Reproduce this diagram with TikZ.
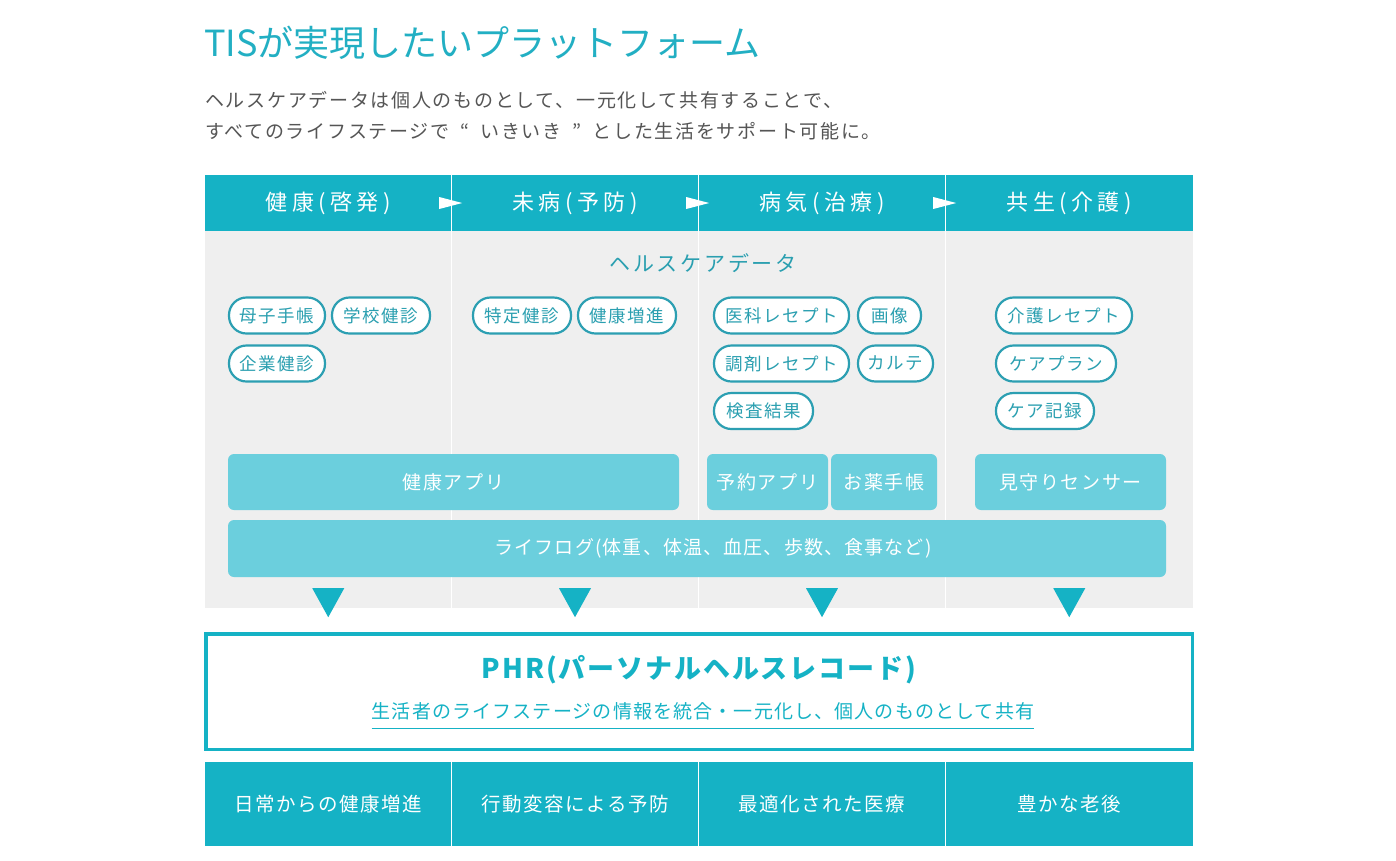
\documentclass[tikz,border=0pt]{standalone}
\usepackage{fontspec}
\setmainfont{Noto Sans CJK JP}
\usetikzlibrary{calc}
\definecolor{tisteal}{HTML}{15B2C5}
\definecolor{tislight}{HTML}{6BCFDD}
\definecolor{tisgray}{HTML}{EFEFEF}
\definecolor{pillline}{HTML}{2C9FB2}
\definecolor{pilltext}{HTML}{2A9FB0}
\definecolor{titlecol}{HTML}{22AFC3}
\definecolor{greytext}{HTML}{555555}
\newcommand\tfs[2]{\fontsize{#1}{#1}\selectfont\addfontfeature{LetterSpace=#2}}
\tikzset{
  hdr/.style={fill=tisteal, text=white, inner sep=0pt, minimum height=56pt, font=\tfs{22}{20}},
  graycol/.style={fill=tisgray, inner sep=0pt, minimum height=377pt},
  botcell/.style={fill=tisteal, text=white, inner sep=0pt, minimum height=84pt, font=\tfs{19.5}{8}},
  divider/.style={white, line width=1.5pt},
  pill/.style={draw=pillline, line width=2.2pt, fill=white, rounded corners=17.5pt, minimum height=36pt, inner sep=0pt, text=pilltext, font=\tfs{17.5}{9}},
  app/.style={fill=tislight, rounded corners=6pt, text=white, inner sep=0pt, font=\tfs{19}{8}},
  tri/.style={fill=tisteal},
}
\begin{document}
\begin{tikzpicture}[x=1pt,y=-1pt]
\useasboundingbox[fill=white] (0,0) rectangle (1396,860);
% title
\node[anchor=west, inner sep=0pt, text=titlecol, font=\tfs{36}{0}] (title) at (204,43) {TISが実現したいプラットフォーム};
\node[anchor=west, inner sep=0pt, text=greytext, font=\tfs{19}{9}] (sub1) at (205,100) {ヘルスケアデータは個人のものとして、一元化して共有することで、};
\node[anchor=west, inner sep=0pt, text=greytext, font=\tfs{19}{9}] (sub2) at (205,131) {すべてのライフステージで\hspace{11pt}“\hspace{11pt}いきいき\hspace{11pt}”\hspace{11pt}とした生活をサポート可能に。};
% header
\node[hdr, minimum width=246.5pt] (h1) at (328.25,203) {健康(啓発)};
\node[hdr, minimum width=247pt] (h2) at (575,203) {未病(予防)};
\node[hdr, minimum width=247pt] (h3) at (822,203) {病気(治療)};
\node[hdr, minimum width=247.5pt] (h4) at (1069.25,203) {共生(介護)};
% gray columns
\node[graycol, minimum width=246.5pt] (g1) at (328.25,419.5) {};
\node[graycol, minimum width=247pt] (g2) at (575,419.5) {};
\node[graycol, minimum width=247pt] (g3) at (822,419.5) {};
\node[graycol, minimum width=247.5pt] (g4) at (1069.25,419.5) {};
\draw[divider] (h1.north east) -- (g1.south east);
\draw[divider] (h2.north east) -- (g2.south east);
\draw[divider] (h3.north east) -- (g3.south east);
% header arrows
\foreach \h in {h1,h2,h3}{
  \fill[white] ($(\h.east)+(-12.5,-6)$) -- ($(\h.east)+(10.5,0)$) -- ($(\h.east)+(-12.5,6)$) -- cycle;
}
% label
\node[text=pilltext, inner sep=0pt, font=\tfs{21}{13}] (hcd) at (703,263) {ヘルスケアデータ};
% pills
\node[pill, minimum width=96pt] (p1) at (277,315.5) {母子手帳};
\node[pill, minimum width=98pt] (p2) at (381,315.5) {学校健診};
\node[pill, minimum width=96pt] (p3) at (277,363.5) {企業健診};
\node[pill, minimum width=98pt] (p4) at (522,315.5) {特定健診};
\node[pill, minimum width=98pt] (p5) at (627,315.5) {健康増進};
\node[pill, minimum width=135pt] (p6) at (781.5,315.5) {医科レセプト};
\node[pill, minimum width=63pt] (p7) at (889.5,315.5) {画像};
\node[pill, minimum width=135pt] (p8) at (781.5,363.5) {調剤レセプト};
\node[pill, minimum width=75pt] (p9) at (895.5,363.5) {カルテ};
\node[pill, minimum width=99pt] (p10) at (763.5,411) {検査結果};
\node[pill, minimum width=136pt] (p11) at (1064,315.5) {介護レセプト};
\node[pill, minimum width=120pt] (p12) at (1056,363.5) {ケアプラン};
\node[pill, minimum width=98pt] (p13) at (1045,411) {ケア記録};
% apps
\node[app, minimum width=451pt, minimum height=56pt] (a1) at (453.5,482) {健康アプリ};
\node[app, minimum width=121pt, minimum height=56pt] (a2) at (767.5,482) {予約アプリ};
\node[app, minimum width=106pt, minimum height=56pt] (a3) at (884,482) {お薬手帳};
\node[app, minimum width=191pt, minimum height=56pt] (a4) at (1070.5,482) {見守りセンサー};
\node[app, minimum width=938pt, minimum height=57pt, font=\tfs{19}{6}] (a5) at (697,548.5) {\hspace{32pt}ライフログ(体重、体温、血圧、歩数、食事など)};
% down triangles
\foreach \g in {g1,g2,g3,g4}{
  \fill[tisteal] ($(\g.south)+(-16,-20)$) -- ($(\g.south)+(16,-20)$) -- ($(\g.south)+(0,9)$) -- cycle;
}
% PHR box
\node[draw=tisteal, line width=3.5pt, inner sep=0pt, minimum width=986.5pt, minimum height=115.5pt] (phr) at (699,691.5) {};
\node[text=tisteal, inner sep=0pt, font=\tfs{27}{7}\bfseries] (phrt) at (699,670) {PHR(パーソナルヘルスレコード)};
\node[text=tisteal, inner sep=0pt, font=\tfs{19}{6}] (phrs) at (703,711) {生活者のライフステージの情報を統合・一元化し、個人のものとして共有};
\draw[tisteal, line width=1pt] ([yshift=-10pt]phrs.base west) -- ([yshift=-10pt]phrs.base east);
% bottom row
\node[botcell, minimum width=246.5pt] (b1) at (328.25,804) {日常からの健康増進};
\node[botcell, minimum width=247pt] (b2) at (575,804) {行動変容による予防};
\node[botcell, minimum width=247pt] (b3) at (822,804) {最適化された医療};
\node[botcell, minimum width=247.5pt] (b4) at (1069.25,804) {豊かな老後};
\draw[divider] (b1.north east) -- (b1.south east);
\draw[divider] (b2.north east) -- (b2.south east);
\draw[divider] (b3.north east) -- (b3.south east);
\end{tikzpicture}
\end{document}
